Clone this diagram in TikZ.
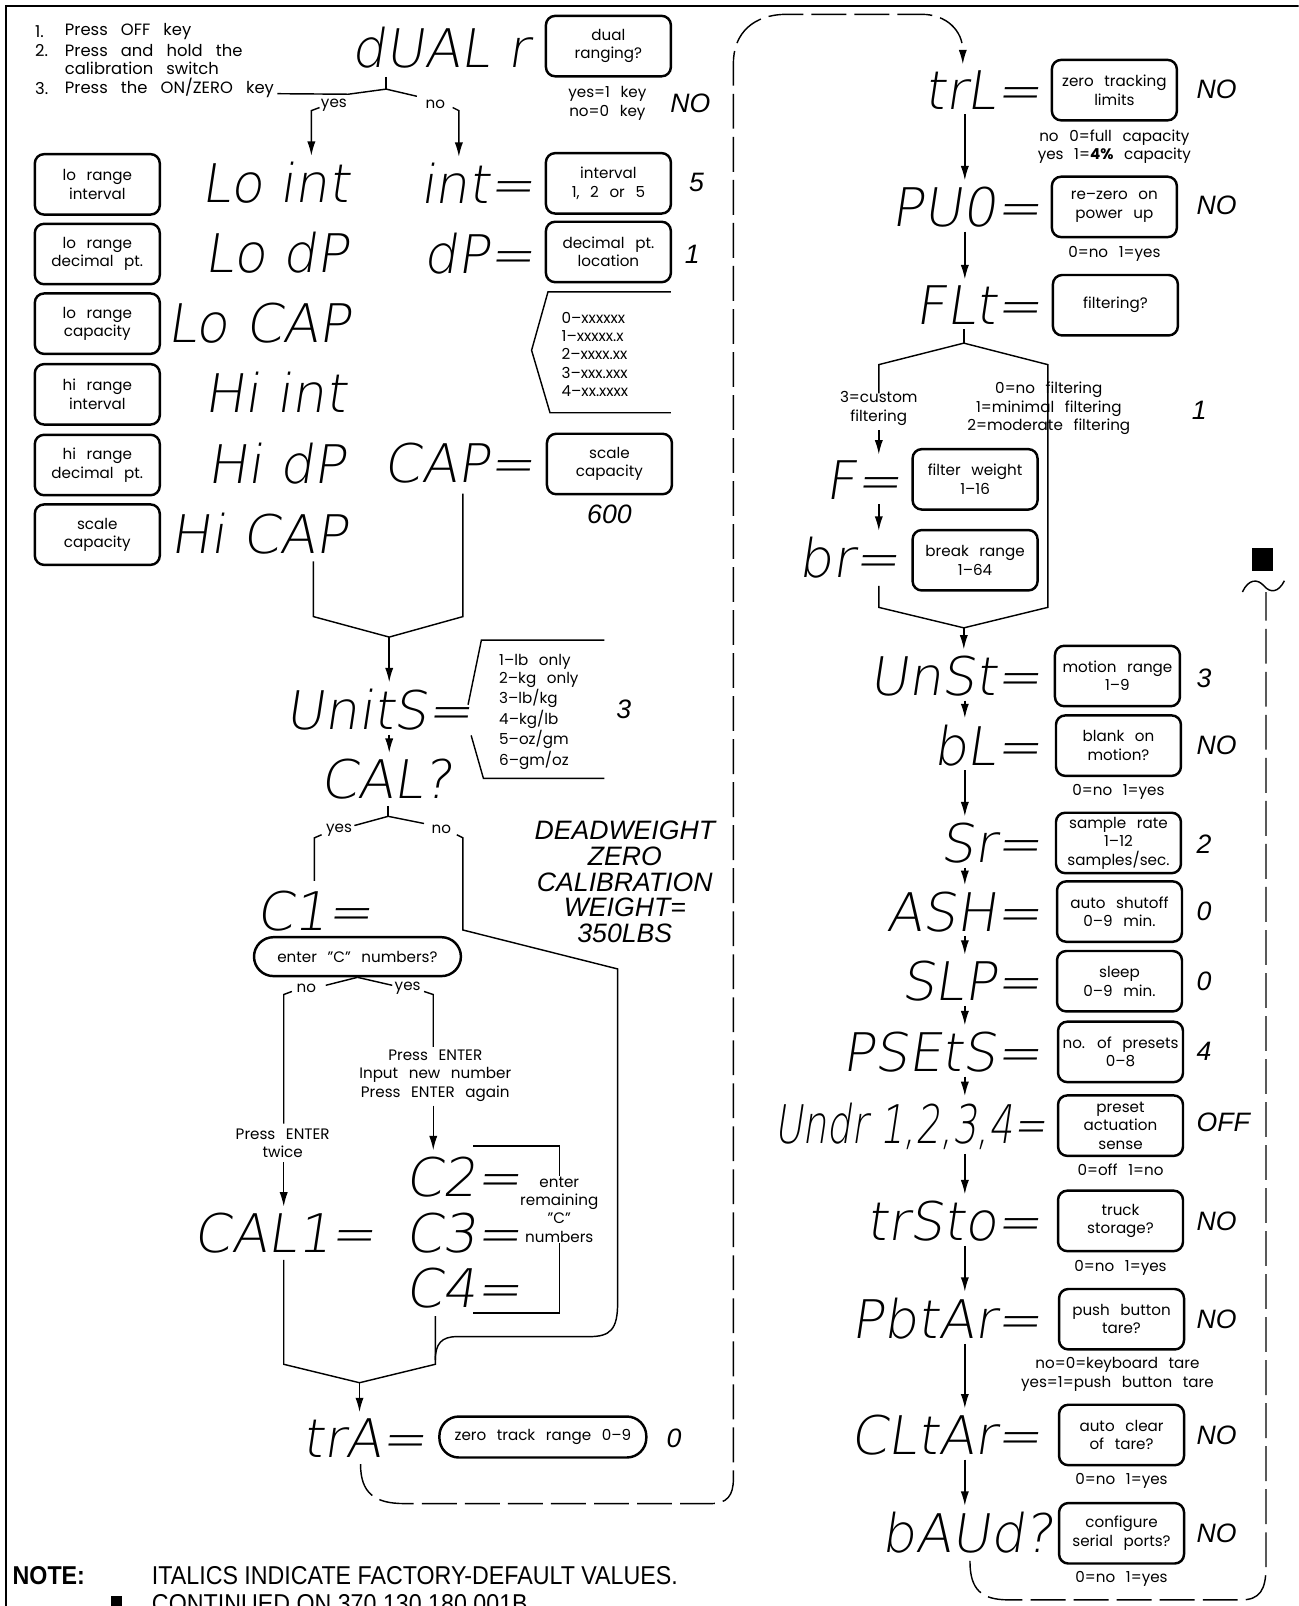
\documentclass[tikz,border=0pt]{standalone}
\usepackage{fontspec}
\setmainfont{Poppins}
\newfontfamily\segfont{DejaVu Sans ExtraLight}[FakeSlant=0.15]
\newfontfamily\segnarrow{DejaVu Sans ExtraLight}[FakeSlant=0.15, FakeStretch=0.72]
\newfontfamily\valfont{Liberation Sans}
\newfontfamily\notefont{Liberation Sans}[FakeStretch=0.9]
\usetikzlibrary{arrows.meta}
\newcommand\lblfont{\fontsize{7.4}{9}\selectfont\spaceskip=0.7em plus 0.2em minus 0.1em\relax}
\newcommand\insfont{\fontsize{8}{9}\selectfont\spaceskip=0.8em plus 0.2em\relax}
\newcommand\listfont{\fontsize{7.4}{8.7}\selectfont\spaceskip=0.7em plus 0.2em\relax}
\tikzset{
  seg/.style={font=\segfont\fontsize{26}{26}\selectfont, inner sep=0pt},
  lbl/.style={draw, line width=1.2pt, rounded corners=4.5pt, minimum width=61pt,
    minimum height=29.5pt, inner sep=1pt, align=center, font=\lblfont},
  pill/.style={draw, line width=1.2pt, rounded corners=9.5pt, minimum width=101pt,
    minimum height=19pt, inner sep=1pt, font=\lblfont},
  txt/.style={inner sep=0pt, align=center, font=\lblfont},
  ins/.style={inner sep=0pt, font=\insfont},
  dval/.style={inner sep=0pt, align=center, font=\valfont\itshape\fontsize{13}{12.6}\selectfont},
  ln/.style={line width=0.7pt},
  arr/.style={ln, -{Latex[length=7pt,width=4pt]}, shorten <=2pt, shorten >=3pt},
  loopln/.style={line width=0.7pt, dash pattern=on 17pt off 4pt},
}

\begin{document}
\begin{tikzpicture}[x=0.5pt, y=-0.5pt]
  \useasboundingbox (0,0) rectangle (1268,1568);
  \clip (0,0) rectangle (1268,1568);
  % frame
  \draw[line width=1pt] (5.5,1568) -- (5.5,5.5) -- (1268,5.5);

  % start-up steps
  \foreach \i/\yy in {1/31, 2/49, 3/86}
    \node[ins, anchor=west] (n\i) at (34,\yy) {\i.};
  \foreach \i/\yy/\lab in {1/31/{Press OFF key}, 2/49/{Press and hold the},
      c/67/{calibration switch}, 3/86/{Press the ON/ZERO key}}
    \node[ins, anchor=west] (t\i) at (63,\yy) {\lab};

  % dual ranging
  \node[seg, anchor=base] (sdual) at (430,66) {dUAL r};
  \node[lbl] (bdual) at (594,45) {dual\\ranging?};
  \node[txt] (kdual) at (593,101) {yes=1 key\\no=0 key};
  \node[dval] (ddual) at (674,101) {NO};
  \node[txt] (ydual) at (326,103) {yes};
  \node[txt] (ndual) at (425,102) {no};

  % lo / hi range column
  \foreach \nm/\yy/\bx/\sg/\sx in {
      loint/180/{lo range\\interval}/{Lo int}/269,
      lodp/248/{lo range\\decimal pt.}/{Lo dP}/270,
      locap/316/{lo range\\capacity}/{Lo CAP}/253,
      hiint/385/{hi range\\interval}/{Hi int}/269,
      hidp/454/{hi range\\decimal pt.}/{Hi dP}/270,
      hicap/522/{scale\\capacity}/{Hi CAP}/253}
  {
    \node[lbl] (b\nm) at (95,\yy) {\bx};
    \node[seg, anchor=base] (s\nm) at (\sx,\yy+18) {\sg};
  }

  % single range column
  \node[seg, anchor=base east] (sint) at (522,199) {int=};
  \node[lbl] (bint) at (594,179) {interval\\1, 2 or 5};
  \node[dval] (dint) at (680,178) {5};
  \node[seg, anchor=base east] (sdp) at (522,267) {dP=};
  \node[lbl] (bdp) at (594,246) {decimal pt.\\location};
  \node[dval] (ddp) at (676,248) {1};
  \node[txt, align=left, anchor=west] (dplist) at (548,346)
    {0--xxxxxx\\1--xxxxx.x\\2--xxxx.xx\\3--xxx.xxx\\4--xx.xxxx};
  \draw[ln] (655,285) -- (535,285) -- (519,342) -- (537,403) -- (655,403);
  \node[seg, anchor=base east] (scap) at (522,471) {CAP=};
  \node[lbl] (bcap) at (595,453) {scale\\capacity};
  \node[dval] (dcap) at (595,502) {600};

  % units and calibration
  \node[seg, anchor=base] (sunits) at (370,712) {UnitS=};
  \node[txt, align=left, anchor=west, font=\listfont] (ulist) at (487,695)
    {1--lb only\\2--kg only\\3--lb/kg\\4--kg/lb\\5--oz/gm\\6--gm/oz};
  \draw[ln] (590,625) -- (470,625) -- (457,688);
  \draw[ln] (460,718) -- (472,760) -- (590,760);
  \node[dval] (dunits) at (609,693) {3};
  \node[seg, anchor=base] (scal) at (377,780) {CAL?};
  \node[txt] (ycal) at (331,811) {yes};
  \node[txt] (ncal) at (431,810) {no};
  \node[dval] (dwz) at (610,861) {DEADWEIGHT\\ZERO\\CALIBRATION\\WEIGHT=\\350LBS};
  \node[seg, anchor=base] (sc1) at (307,908) {C1=};
  \node[pill] (bcn) at (349,934) {enter "C" numbers?};
  \node[txt] (ncn) at (299,965) {no};
  \node[txt] (ycn) at (398,965) {yes};
  \node[txt] (pet) at (276,1116) {Press ENTER\\twice};
  \node[txt] (pen) at (425,1050) {Press ENTER\\Input new number\\Press ENTER again};
  \node[seg, anchor=base] (scali) at (278,1223) {CAL1=};
  \node[seg, anchor=base] (sc2) at (452,1168) {C2=};
  \node[seg, anchor=base] (sc3) at (452,1223) {C3=};
  \node[seg, anchor=base] (sc4) at (452,1277) {C4=};
  \node[txt] (rem) at (546,1181) {enter\\remaining\\"C"\\numbers};
  \node[seg, anchor=base] (stra) at (356,1423) {trA=};
  \node[pill, minimum height=20pt] (btra) at (530,1403) {zero track range 0--9};
  \node[dval] (dtra) at (658,1404) {0};

  % right column
  \foreach \nm/\xx/\yy/\sg/\bx in {
      trl/1088/88/{trL=}/{zero tracking\\limits},
      puo/1088/202/{PU0=}/{re--zero on\\power up},
      flt/1089/298/{FLt=}/{filtering?},
      unst/1091/660/{UnSt=}/{motion range\\1--9},
      bl/1092/728/{bL=}/{blank on\\motion?},
      sr/1092/823/{Sr=}/{sample rate\\1--12\\samples/sec.},
      ash/1093/890/{ASH=}/{auto shutoff\\0--9 min.},
      slp/1093/958/{SLP=}/{sleep\\0--9 min.},
      psets/1094/1027/{PSEtS=}/{no. of presets\\0--8},
      trsto/1094/1192/{trSto=}/{truck\\storage?},
      pbtar/1095/1288/{PbtAr=}/{push button\\tare?},
      cltar/1095/1401/{CLtAr=}/{auto clear\\of tare?}}
  {
    \node[lbl] (b\nm) at (\xx,\yy) {\bx};
    \node[seg, anchor=base east] (s\nm) at (1017,\yy+19) {\sg};
  }
  \node[lbl] (bundr) at (1094,1099) {preset\\actuation\\sense};
  \node[seg, font=\segnarrow\fontsize{26}{26}\selectfont, anchor=base east] (sundr)
    at (1021,1116) {Undr 1,2,3,4=};
  \node[lbl] (bbaud) at (1095,1497) {configure\\serial ports?};
  \node[seg, anchor=base east] (sbaud) at (1028,1516) {bAUd?};
  \node[seg, anchor=base east] (sfq) at (880,488) {F=};
  \node[lbl] (bfq) at (952,468) {filter weight\\1--16};
  \node[seg, anchor=base east] (sbrq) at (878,564) {br=};
  \node[lbl] (bbrq) at (952,547) {break range\\1--64};

  \foreach \nm/\yy/\dv in {trl/87/NO, puo/200/NO, unst/662/3, bl/728/NO, sr/824/2,
      ash/890/0, slp/958/0, psets/1026/4, undr/1096/OFF, trsto/1192/NO,
      pbtar/1288/NO, cltar/1401/NO, baud/1497/NO}
    \node[dval, anchor=west] (d\nm) at (1168,\yy) {\dv};
  \foreach \nm/\yy/\lab in {puo/248/{0=no 1=yes}, bl/773/{0=no 1=yes},
      undr/1142/{0=off 1=no}, trsto/1238/{0=no 1=yes}, cltar/1446/{0=no 1=yes},
      baud/1542/{0=no 1=yes}}
    \node[txt] (o\nm) at (b\nm |- 0,\yy) {\lab};
  \node[txt] (otrl) at (1088,143) {no 0=full capacity\\yes 1=\textbf{4\%} capacity};
  \node[txt] (opbtar) at (1091,1342) {no=0=keyboard tare\\yes=1=push button tare};
  \node[txt] (cflt) at (858,399) {3=custom\\filtering};
  \node[txt] (oflt) at (1024,399) {0=no filtering\\1=minimal filtering\\2=moderate filtering};
  \node[dval] (dflt) at (1171,401) {1};

  % connectors, left half
  \coordinate (jd) at (377,87);
  \draw[ln] (t3.base east) ++(3,0) -- (340,92) -- (jd) -- (407,94);
  \draw[ln, shorten <=4pt] (jd |- sdual.south) -- (jd);
  \draw[arr, shorten <=0pt] (312,105) -- (304,108) -- (304,0 |- sloint.north);
  \draw[arr, shorten <=0pt] (442,105) -- (448,108) -- (448,0 |- sint.north);
  \coordinate (ma) at (380,622);
  \draw[ln] (306,548) -- (306,602) -- (ma) -- (452,602) -- (452,482);
  \draw[arr, shorten <=0pt] (ma) -- (ma |- sunits.north);
  \draw[arr] (sunits.south -| ma) -- (scal.north -| ma);
  \coordinate (jc) at (379,797);
  \draw[ln, shorten <=3pt] (jc |- scal.south) -- (jc);
  \draw[ln] (346,806) -- (jc) -- (414,804);
  \draw[ln] (314,815) -- (307,818) -- (307,860);
  \draw[ln] (446,815) -- (452,818) -- (452,908) -- (603,946) -- (603,1272)
    .. controls (603,1298) and (596,1305) .. (575,1305) -- (446,1305)
    .. controls (431,1305) and (425,1312) .. (425,1328);
  \draw[ln] (bcn.south) -- (318,962);
  \draw[ln] (bcn.south) -- (383,962);
  \draw[ln] (285,968) -- (277,971) -- (277,1097);
  \draw[arr] (pet.south -| 277,0) -- (277,0 |- scali.north);
  \draw[ln] (414,968) -- (423,971) -- (423,1022);
  \draw[arr] (pen.south -| 423,0) -- (423,0 |- sc2.north);
  \draw[ln] (462,1119) -- (546,1119) -- (546,0 |- rem.north);
  \draw[ln] (546,0 |- rem.south) -- (546,1282) -- (462,1282);
  \coordinate (mb) at (351,1350);
  \draw[ln] (277,1230) -- (277,1332) -- (mb) -- (425,1332) -- (425,1285);
  \draw[arr, shorten <=0pt] (mb) -- (mb |- stra.north);
  \draw[loopln, -{Latex[length=7pt,width=4pt]}, shorten <=3pt, shorten >=3pt]
    (352,0 |- stra.south) .. controls (352,1458) and (366,1468) .. (395,1468)
    -- (694,1468) .. controls (710,1468) and (716,1460) .. (716,1444)
    -- (716,62) .. controls (716,32) and (736,14) .. (768,14)
    -- (900,14) .. controls (924,14) and (940,30) .. (940,0 |- strl.north);

  % connectors, right half
  \coordinate (rc) at (942,0);
  \foreach \a/\b in {trl/puo, puo/flt, unst/bl, bl/sr, sr/ash, ash/slp, slp/psets,
      psets/undr, undr/trsto, trsto/pbtar, pbtar/cltar, cltar/baud}
    \draw[arr] (s\a.south -| rc) -- (s\b.north -| rc);
  \coordinate (jf) at (941,335);
  \coordinate (mf) at (941,613);
  \draw[ln, shorten <=2pt] (sflt.south -| jf) -- (jf);
  \draw[ln] (858,384) -- (858,356) -- (jf) -- (1023,356) -- (1023,593) -- (mf)
    -- (858,593) -- (858,572);
  \draw[arr] (cflt.south -| 858,0) -- (858,0 |- sfq.north);
  \draw[arr] (sfq.south -| 858,0) -- (858,0 |- sbrq.north);
  \draw[arr, shorten <=0pt] (mf) -- (mf |- sunst.north);
  \draw[loopln] (947,1524) .. controls (947,1552) and (958,1562) .. (985,1562)
    -- (1212,1562) .. controls (1230,1562) and (1236,1552) .. (1236,1530) -- (1236,578);
  \fill (1222,535) rectangle (1243,557);
  \draw[ln] (1213,578) .. controls (1219,565) and (1228,565) .. (1234,572)
    .. controls (1240,579) and (1248,579) .. (1254,567);

  % note
  \node[anchor=base west, inner sep=0pt, font=\notefont\bfseries\fontsize{12.6}{14}\selectfont]
    (nhead) at (12,1547) {NOTE:};
  \node[anchor=base west, inner sep=0pt, font=\notefont\fontsize{12.6}{14}\selectfont]
    (ntext) at (148,1547) {ITALICS INDICATE FACTORY-DEFAULT VALUES.};
  \fill (108,1558) rectangle (119,1569);
  \node[anchor=base west, inner sep=0pt, font=\notefont\fontsize{12.6}{14}\selectfont]
    (ncont) at (148,1574) {CONTINUED ON 370 130 180 001B};
\end{tikzpicture}
\end{document}
